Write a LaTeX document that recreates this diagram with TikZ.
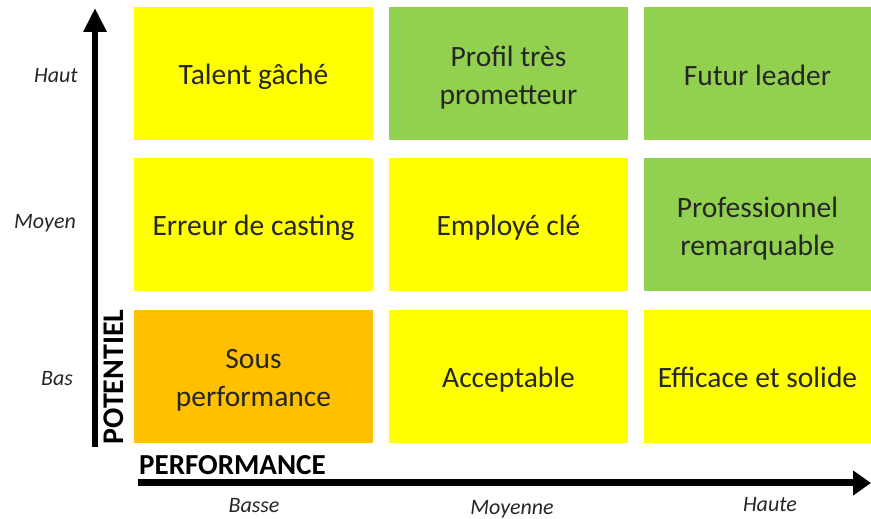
\documentclass[tikz,border=0pt]{standalone}
\usepackage{fontspec}
\setmainfont{Carlito}
\usetikzlibrary{arrows.meta}
\definecolor{cyel}{HTML}{FFFF00}
\definecolor{cgrn}{HTML}{92D050}
\definecolor{corg}{HTML}{FFC000}
\begin{document}
\begin{tikzpicture}[x=1pt,y=1pt,
  cell/.style={minimum width=239pt,minimum height=133pt,inner sep=0pt},
  celltext/.style={inner sep=0pt,align=center,font=\fontsize{29.5}{38}\selectfont,text=black!85},
  lvl/.style={font=\fontsize{22}{26}\selectfont\itshape,text=black!85},
  vaxis/.style={line width=6pt,-{Triangle[width=22pt,length=24pt]}},
  haxis/.style={line width=7pt,-{Triangle[width=24pt,length=18pt]}}]
\useasboundingbox (0,0) rectangle (871,519);
% row 1 (Haut)
\node[cell,fill=cyel] (c11) at (253.5,445.5) {};
\node[cell,fill=cgrn] (c12) at (508.5,445.5) {};
\node[cell,fill=cgrn,minimum width=227pt] (c13) at (757.5,445.5) {};
% row 2 (Moyen)
\node[cell,fill=cyel] (c21) at (253.5,294) {};
\node[cell,fill=cyel] (c22) at (508.5,294) {};
\node[cell,fill=cgrn,minimum width=227pt] (c23) at (757.5,294) {};
% row 3 (Bas)
\node[cell,fill=corg] (c31) at (253.5,142.5) {};
\node[cell,fill=cyel] (c32) at (508.5,142.5) {};
\node[cell,fill=cyel,minimum width=227pt] (c33) at (757.5,142.5) {};
% cell texts
\node[celltext] (t11) at ([yshift=-3pt]c11.center) {Talent gâché};
\node[celltext] (t12) at ([yshift=-4pt]c12.center) {Profil très\\prometteur};
\node[celltext] (t13) at ([yshift=-2pt]c13.center) {Futur leader};
\node[celltext] (t21) at ([yshift=-3pt]c21.center) {Erreur de casting};
\node[celltext] (t22) at ([yshift=-3pt]c22.center) {Employé clé};
\node[celltext] (t23) at ([yshift=-4pt]c23.center) {Professionnel\\remarquable};
\node[celltext] (t31) at ([yshift=-4pt]c31.center) {Sous\\performance};
\node[celltext] (t32) at ([yshift=-3pt]c32.center) {Acceptable};
\node[celltext] (t33) at ([yshift=-1pt]c33.center) {Efficace et solide};
% axes
\coordinate (vy0) at (95,72);
\coordinate (vy1) at (95,511);
\draw[vaxis] (vy0) -- (vy1);
\coordinate (hx0) at (138,36);
\coordinate (hx1) at (871,36);
\draw[haxis] (hx0) -- (hx1);
\node[rotate=90,inner sep=0pt,font=\fontsize{30}{34}\selectfont\bfseries] (pot) at (114,142) {POTENTIEL};
\node[anchor=west,inner sep=0pt,font=\fontsize{29}{33}\selectfont\bfseries] (perf) at (139,54) {PERFORMANCE};
% level labels
\node[lvl] (haut) at (56,443) {Haut};
\node[lvl] (moyen) at (45,296) {Moyen};
\node[lvl] (bas) at (57,140) {Bas};
\node[lvl] (basse) at (254,13) {Basse};
\node[lvl] (moyenne) at (512,10) {Moyenne};
\node[lvl] (haute) at (770,14) {Haute};
\end{tikzpicture}
\end{document}
